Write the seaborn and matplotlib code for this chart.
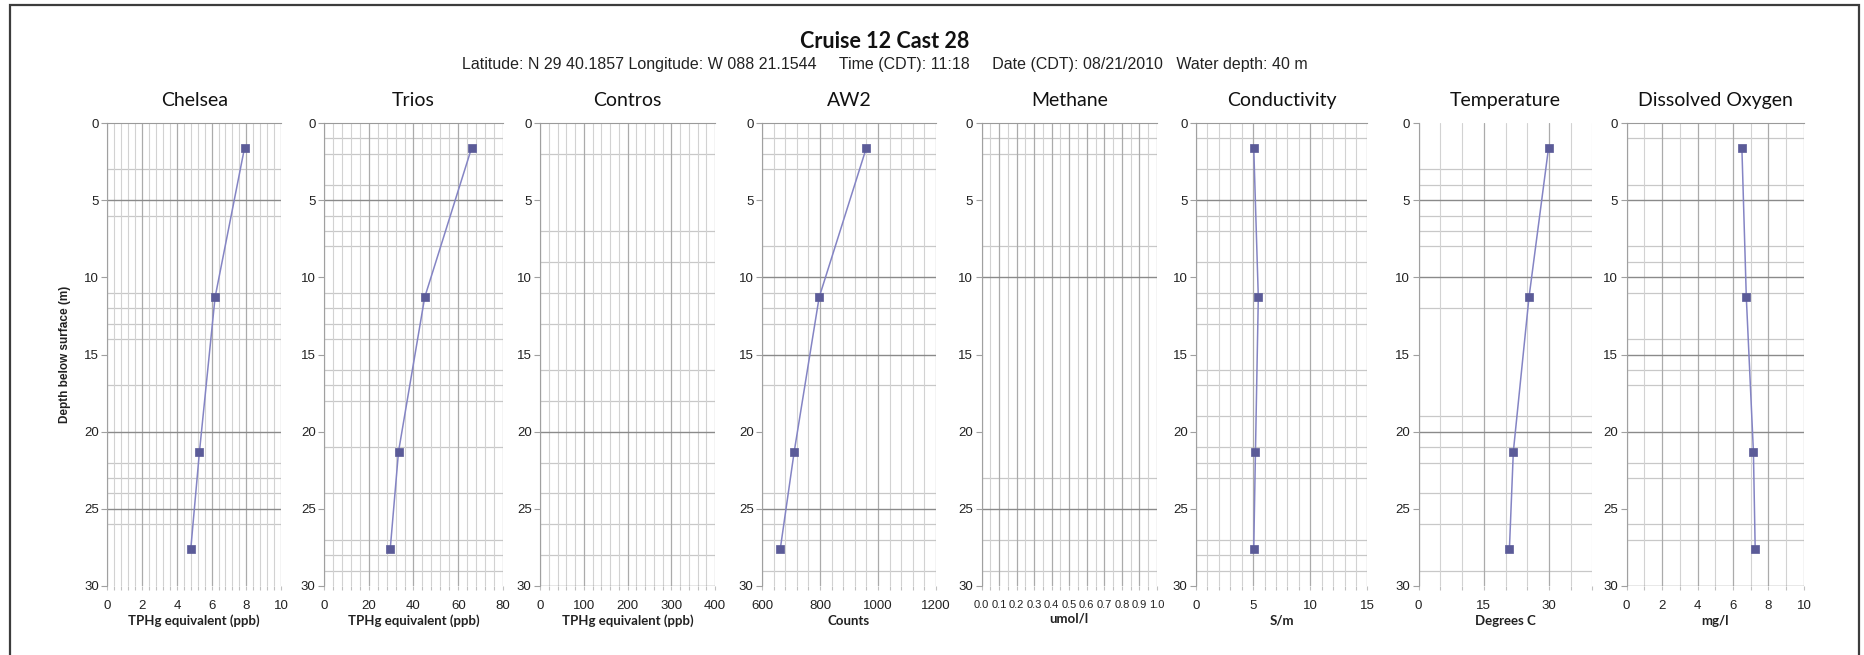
import matplotlib
matplotlib.use("Agg")
import matplotlib.pyplot as plt
import numpy as np
import pandas as pd
import seaborn as sns
from matplotlib import font_manager
from matplotlib.patches import Rectangle
from matplotlib.ticker import MultipleLocator, FormatStrFormatter

sns.set_style("white")


def have_font(name):
    try:
        font_manager.findfont(font_manager.FontProperties(family=name), fallback_to_default=False)
        return True
    except Exception:
        return False


NARROW = "Liberation Sans Narrow" if have_font("Liberation Sans Narrow") else "Liberation Sans"
TITLE_FONT = "Lato"
plt.rcParams["font.family"] = [TITLE_FONT, "DejaVu Sans"]

# ## data
depth = [1.6, 11.3, 21.3, 27.6]
chelsea = [7.9, 6.2, 5.3, 4.8]
trios = [66.0, 45.0, 33.3, 29.6]
contros = []
aw2 = [960, 797, 711, 663]
methane = []
conductivity = [5.05, 5.45, 5.2, 5.05]
temperature = [29.9, 25.4, 21.8, 20.9]
oxygen = [6.5, 6.75, 7.15, 7.25]

names = ["Chelsea", "Trios", "Contros", "AW2", "Methane", "Conductivity", "Temperature", "Dissolved Oxygen"]
values = [chelsea, trios, contros, aw2, methane, conductivity, temperature, oxygen]
xlabels = ["TPHg equivalent (ppb)", "TPHg equivalent (ppb)", "TPHg equivalent (ppb)", "Counts",
           "umol/l", "S/m", "Degrees C", "mg/l"]
xlims = [(0, 10), (0, 80), (0, 400), (600, 1200), (0, 1), (0, 15), (0, 40), (0, 10)]
xmajor = [2, 20, 100, 200, 0.1, 5, 15, 2]
xminor = [0.4, 4, 20, 40, 0.05, 1, 5, 1]
xfmt = ["%g", "%g", "%g", "%g", "%.1f", "%g", "%g", "%g"]
xtick_size = [9.5, 9.5, 9.5, 9.5, 8, 9.5, 9.5, 9.5]

# faint horizontal grid lines as they survive in the scanned chart
hminor = [
    [3, 6, 11, 12, 13, 14, 17, 22, 23, 24, 26],
    [1, 2, 4, 6, 7, 8, 11, 12, 13, 14, 16, 17, 18, 21, 24, 27, 28, 29],
    [2, 7, 9, 11, 13, 16, 18, 22, 24, 26, 28],
    [1, 2, 3, 8, 11, 12, 13, 17, 24, 26, 27, 29],
    [1, 2, 8, 23, 27, 29],
    [1, 3, 6, 7, 9, 11, 12, 13, 16, 17, 19, 21, 22, 23, 27, 28, 29],
    [3, 4, 6, 7, 8, 12, 19, 21, 22, 24, 26, 29],
    [1, 4, 8, 9, 11, 14, 16, 17, 22, 23, 26, 27],
]
hmajor = [[5, 20, 25], [5], [20, 30], [10, 15, 25], [10, 25], [5], [5, 10, 20], [5, 10, 15, 20, 30]]
top_line = [True, True, True, True, True, True, False, True]

# panel edges in pixels
W, H = 1865, 655
lefts = [107.5, 324, 540, 762, 981.5, 1196, 1418.5, 1626.5]
rights = [281, 503, 715, 936, 1157, 1367.5, 1592.5, 1804]
top_px, bot_px = 123, 586

LINE_C = "#8484c4"
MARK_C = "#5b5b98"

fig = plt.figure(figsize=(W / 100, H / 100), dpi=100)

for i, name in enumerate(names):
    ax = fig.add_axes([lefts[i] / W, 1 - bot_px / H, (rights[i] - lefts[i]) / W, (bot_px - top_px) / H])
    ax.set_xlim(*xlims[i])
    ax.set_ylim(30, 0)

    ax.xaxis.set_major_locator(MultipleLocator(xmajor[i]))
    ax.xaxis.set_minor_locator(MultipleLocator(xminor[i]))
    ax.xaxis.set_major_formatter(FormatStrFormatter(xfmt[i]))
    ax.yaxis.set_major_locator(MultipleLocator(5))

    ax.grid(axis="x", which="minor", color="#d2d2d2", linewidth=0.8)
    ax.grid(axis="x", which="major", color="#ababab", linewidth=0.9)
    ax.set_axisbelow(True)
    for d in hminor[i]:
        ax.axhline(d, color="#c8c8c8", linewidth=0.9, zorder=0.5)
    for d in hmajor[i]:
        ax.axhline(d, color="#8a8a8a", linewidth=1.0, zorder=0.6)

    for side in ["right", "bottom"]:
        ax.spines[side].set_visible(False)
    ax.spines["left"].set_color("#a0a0a0")
    ax.spines["top"].set_color("#9a9a9a")
    ax.spines["top"].set_visible(top_line[i])

    ax.tick_params(axis="y", which="major", left=True, length=4, width=0.8, color="#a0a0a0",
                   labelsize=9.5, pad=2, labelcolor="#222222")
    ax.tick_params(axis="x", which="both", bottom=True, top=False, length=3, width=0.8,
                   color="#c0c0c0", labelsize=xtick_size[i], pad=7, labelcolor="#222222")
    for lab in ax.get_xticklabels() + ax.get_yticklabels():
        lab.set_family(NARROW)

    if values[i]:
        df = pd.DataFrame({"value": values[i], "depth": depth})
        sns.lineplot(data=df, x="value", y="depth", sort=False, orient="y", color=LINE_C,
                     linewidth=1.1, ax=ax, zorder=3)
        sns.scatterplot(data=df, x="value", y="depth", marker="s", s=34, color=MARK_C,
                        edgecolor=MARK_C, linewidth=0.5, ax=ax, zorder=4)

    ax.set_title(name, fontsize=14, pad=12, color="#111111")
    ax.set_xlabel(xlabels[i], fontsize=9.5, fontweight="bold", labelpad=2, color="#222222")
    if i == 0:
        ax.set_ylabel("Depth below surface (m)", fontsize=8.5, fontweight="bold", family=NARROW,
                      color="#222222")
        ax.yaxis.set_label_coords((71 - lefts[0]) / (rights[0] - lefts[0]), 0.5)
    else:
        ax.set_ylabel("")

# outer frame
fig.add_artist(Rectangle((10 / W, -0.05), (1859 - 10) / W, 1.05 - 5 / H, transform=fig.transFigure,
                         fill=False, edgecolor="#3c3c3c", linewidth=1.6))

fig.text(885 / W, 1 - 42 / H, "Cruise 12 Cast 28", ha="center", va="center", fontsize=15.5,
         fontweight="bold", color="#111111")
fig.text(885 / W, 1 - 65 / H,
         "Latitude: N 29 40.1857 Longitude: W 088 21.1544     Time (CDT): 11:18     "
         "Date (CDT): 08/21/2010   Water depth: 40 m",
         ha="center", va="center", fontsize=11.5, family=NARROW, color="#222222")

plt.savefig("out.png", dpi=100)
